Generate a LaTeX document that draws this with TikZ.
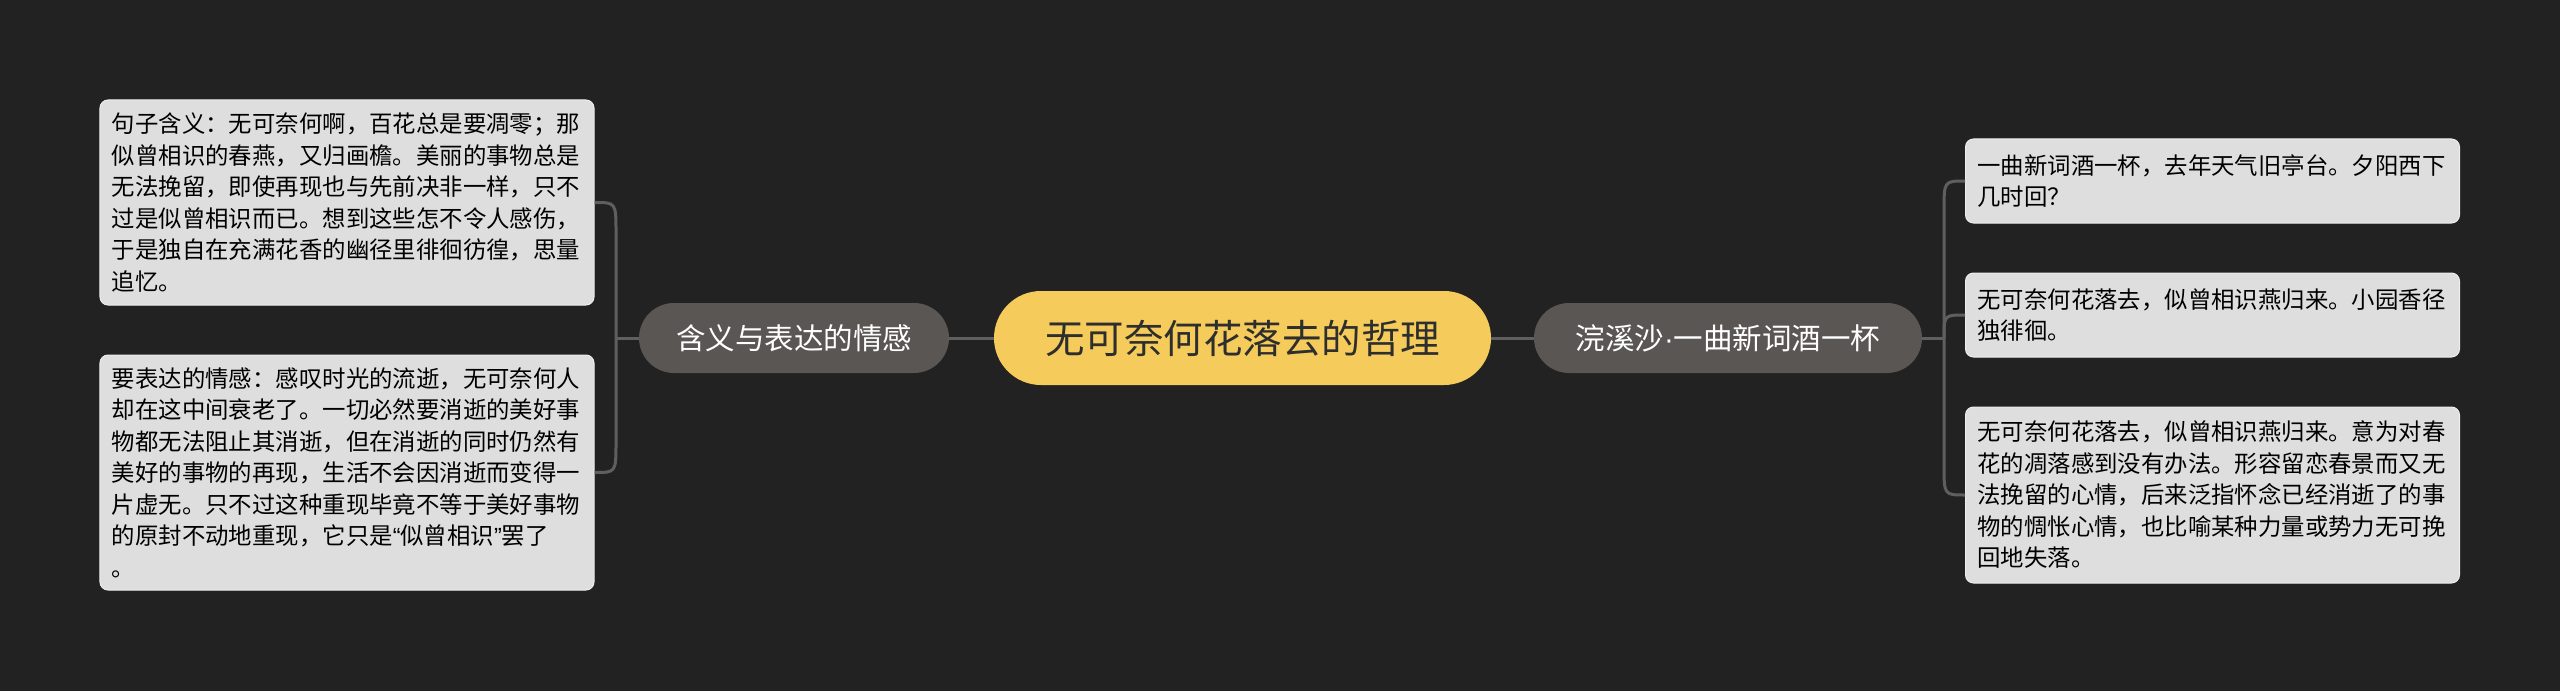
\documentclass[tikz,border=0pt]{standalone}
\usepackage{fontspec}
\setmainfont{Noto Sans CJK SC}
\newfontfamily\latinf{Liberation Sans}
\definecolor{bgc}{HTML}{222222}
\definecolor{yellowc}{HTML}{F5CC5B}
\definecolor{darktext}{HTML}{2E2E2E}
\definecolor{branchc}{HTML}{5A5654}
\definecolor{leafc}{HTML}{DEDEDE}
\definecolor{leafborder}{HTML}{EDEDED}
\definecolor{connc}{HTML}{5F5F5F}
\tikzset{
  rootbox/.style={fill=yellowc, text=darktext, font=\fontsize{39.5bp}{44bp}\selectfont,
    minimum width=497bp, minimum height=94bp, rounded corners=47bp, inner sep=0pt},
  branchbox/.style={fill=branchc, text=white, font=\fontsize{29.5bp}{34bp}\selectfont,
    minimum height=70bp, rounded corners=35bp, inner sep=0pt},
  leafbox/.style={fill=leafc, draw=leafborder, line width=1bp, rounded corners=8bp,
    text width=470bp, align=left, inner xsep=12bp, inner ysep=0pt, text=black,
    font=\fontsize{23.4bp}{31.5bp}\selectfont},
  conn/.style={draw=connc, line width=3bp}
}
\begin{document}
\begin{tikzpicture}[x=1bp,y=-1bp]
\fill[bgc] (0,0) rectangle (2560,691);
\useasboundingbox (0,0) rectangle (2560,691);

\node[rootbox] (root) at (1242.5,338) {无可奈何花落去的哲理};
\node[branchbox, minimum width=310bp] (bl) at (794,338) {含义与表达的情感};
\node[branchbox, minimum width=388bp] (br) at (1728,338) {浣溪沙{\latinf ·}一曲新词酒一杯};

\node[leafbox, minimum height=205bp] (l1) at (347,202.5) {句子含义：无可奈何啊，百花总是要凋零；那\\似曾相识的春燕，又归画檐。美丽的事物总是\\无法挽留，即使再现也与先前决非一样，只不\\过是似曾相识而已。想到这些怎不令人感伤，\\于是独自在充满花香的幽径里徘徊彷徨，思量\\追忆。};
\node[leafbox, minimum height=235bp] (l2) at (347,472.5) {要表达的情感：感叹时光的流逝，无可奈何人\\却在这中间衰老了。一切必然要消逝的美好事\\物都无法阻止其消逝，但在消逝的同时仍然有\\美好的事物的再现，生活不会因消逝而变得一\\片虚无。只不过这种重现毕竟不等于美好事物\\的原封不动地重现，它只是{\latinf “}似曾相识{\latinf ”}罢了\\。};

\node[leafbox, minimum height=84bp] (r1) at (2212.5,181) {一曲新词酒一杯，去年天气旧亭台。夕阳西下\\几时回？};
\node[leafbox, minimum height=84bp] (r2) at (2212.5,315) {无可奈何花落去，似曾相识燕归来。小园香径\\独徘徊。};
\node[leafbox, minimum height=176bp] (r3) at (2212.5,495) {无可奈何花落去，似曾相识燕归来。意为对春\\花的凋落感到没有办法。形容留恋春景而又无\\法挽留的心情，后来泛指怀念已经消逝了的事\\物的惆怅心情，也比喻某种力量或势力无可挽\\回地失落。};

\coordinate (jl) at (616,338);
\coordinate (jr) at (1944,338);

\draw[conn] (root.west) -- (bl.east);
\draw[conn] (root.east) -- (br.west);
\draw[conn] (bl.west) -- (jl);
\draw[conn] (br.east) -- (jr);

\draw[conn] (jl) -- ([yshift=-30bp]jl |- l1.east) .. controls (jl |- l1.east) .. (l1.east);
\draw[conn] (jl) -- ([yshift=30bp]jl |- l2.east) .. controls (jl |- l2.east) .. (l2.east);
\draw[conn] (jr) -- ([yshift=-30bp]jr |- r1.west) .. controls (jr |- r1.west) .. (r1.west);
\draw[conn] (jr) .. controls (jr |- r2.west) .. (r2.west);
\draw[conn] (jr) -- ([yshift=30bp]jr |- r3.west) .. controls (jr |- r3.west) .. (r3.west);
\end{tikzpicture}
\end{document}
